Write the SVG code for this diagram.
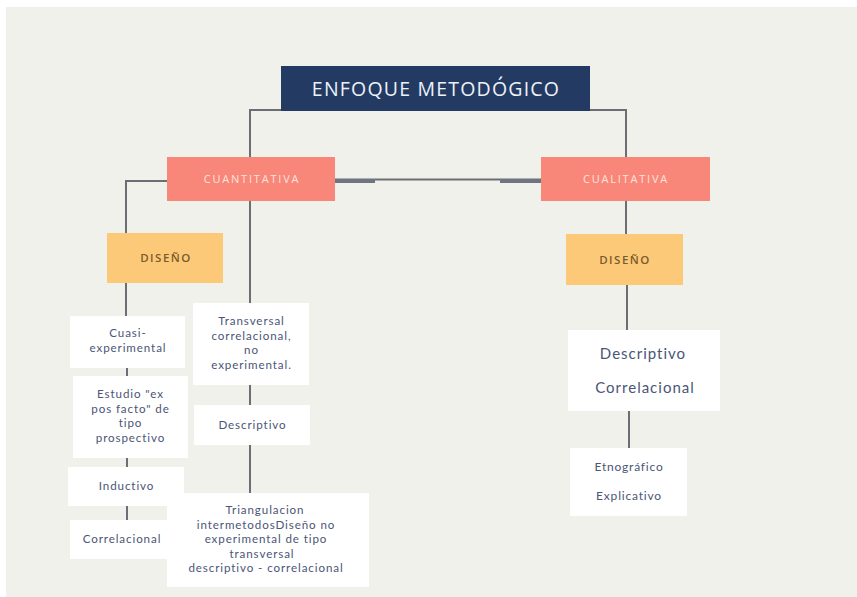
<svg xmlns="http://www.w3.org/2000/svg" width="857" height="597" viewBox="0 0 857 597">
<style>
  .bg{fill:#f1f1ec}
  .top{fill:#233b63}
  .main{fill:#f8877a}
  .dis{fill:#fcc978}
  .card{fill:#ffffff}
  .ln{stroke:#6b6e74;stroke-width:2;fill:none}
  text{font-family:Lato,"Open Sans","Liberation Sans",sans-serif;text-anchor:middle}
  .tt{font-family:"Open Sans","Liberation Sans",sans-serif;fill:#eef1f7;font-size:19.5px;letter-spacing:1.2px}
  .mt{font-family:"Open Sans","Liberation Sans",sans-serif;fill:#fde3dd;font-size:11px;letter-spacing:1.8px}
  .dt{font-family:"Open Sans","Liberation Sans",sans-serif;fill:#7a5b2c;font-size:11.5px;font-weight:600;letter-spacing:1.5px}
  .ct{fill:#4b5576;font-size:11.6px;letter-spacing:0.9px}
  .big{fill:#4b5576;font-size:15px;letter-spacing:1px}
  .sm{fill:#4b5576;font-size:12px;letter-spacing:0.8px}
</style>
<rect width="857" height="597" fill="#ffffff"/>
<rect class="bg" x="6" y="7" width="851" height="590"/>
<g id="connectors">
  <polyline class="ln" points="281,110 250,110 250,157"/>
  <polyline class="ln" points="590,110 626,110 626,157"/>
  <line class="ln" x1="335" y1="179.5" x2="541" y2="179.5"/>
  <rect x="335" y="179" width="40" height="4" fill="#6f7481"/>
  <rect x="500" y="179" width="41" height="4" fill="#6f7481"/>
  <polyline class="ln" points="167,181 126,181 126,233"/>
  <line class="ln" x1="250" y1="201" x2="250" y2="303"/>
  <line class="ln" x1="126" y1="283" x2="126" y2="316"/>
  <line class="ln" x1="127" y1="368" x2="127" y2="376"/>
  <line class="ln" x1="127" y1="458" x2="127" y2="467"/>
  <line class="ln" x1="127" y1="506" x2="127" y2="520"/>
  <line class="ln" x1="250" y1="385" x2="250" y2="405"/>
  <line class="ln" x1="250" y1="445" x2="250" y2="493"/>
  <line class="ln" x1="626" y1="201" x2="626" y2="234"/>
  <line class="ln" x1="627" y1="285" x2="627" y2="330"/>
  <line class="ln" x1="629" y1="411" x2="629" y2="448"/>
</g>
<g id="enfoque">
  <rect class="top" x="281" y="66" width="309" height="45"/>
  <text class="tt" x="436" y="96">ENFOQUE METODÓGICO</text>
</g>
<g id="cuantitativa">
  <rect class="main" x="167" y="157" width="168" height="44"/>
  <text class="mt" x="252" y="183">CUANTITATIVA</text>
</g>
<g id="cualitativa">
  <rect class="main" x="541" y="157" width="169" height="44"/>
  <text class="mt" x="626" y="183">CUALITATIVA</text>
</g>
<g id="diseno-izq">
  <rect class="dis" x="107" y="233" width="116" height="50"/>
  <text class="dt" x="166" y="262">DISEÑO</text>
</g>
<g id="diseno-der">
  <rect class="dis" x="566" y="234" width="117" height="51"/>
  <text class="dt" x="625" y="263.5">DISEÑO</text>
</g>
<g id="cuasi">
  <rect class="card" x="70" y="316" width="115" height="52"/>
  <text class="ct" x="128" y="337">Cuasi-</text>
  <text class="ct" x="128" y="352">experimental</text>
</g>
<g id="estudio">
  <rect class="card" x="73" y="376" width="115" height="82"/>
  <text class="ct" x="130.5" y="398">Estudio "ex</text>
  <text class="ct" x="130.5" y="412.5">pos facto" de</text>
  <text class="ct" x="130.5" y="427">tipo</text>
  <text class="ct" x="130.5" y="441.5">prospectivo</text>
</g>
<g id="inductivo">
  <rect class="card" x="68" y="467" width="116" height="39"/>
  <text class="ct" x="126.5" y="490">Inductivo</text>
</g>
<g id="correlacional-izq">
  <rect class="card" x="70" y="520" width="100" height="39"/>
  <text class="ct" x="122" y="543">Correlacional</text>
</g>
<g id="transversal">
  <rect class="card" x="193" y="303" width="116" height="82"/>
  <text class="ct" x="251.5" y="325">Transversal</text>
  <text class="ct" x="251.5" y="339.5">correlacional,</text>
  <text class="ct" x="251.5" y="354">no</text>
  <text class="ct" x="251.5" y="368.5">experimental.</text>
</g>
<g id="descriptivo-izq">
  <rect class="card" x="194" y="405" width="116" height="40"/>
  <text class="ct" x="252.5" y="429">Descriptivo</text>
</g>
<g id="triangulacion">
  <rect class="card" x="167" y="493" width="202" height="94"/>
  <text class="ct" x="265" y="514">Triangulacion</text>
  <text class="ct" x="266" y="528.5">intermetodosDiseño no</text>
  <text class="ct" x="266" y="543">experimental de tipo</text>
  <text class="ct" x="262" y="557.5">transversal</text>
  <text class="ct" x="266" y="572">descriptivo - correlacional</text>
</g>
<g id="descriptivo-der">
  <rect class="card" x="568" y="330" width="152" height="81"/>
  <text class="big" x="643" y="359">Descriptivo</text>
  <text class="big" x="645" y="393">Correlacional</text>
</g>
<g id="etnografico">
  <rect class="card" x="570" y="448" width="117" height="68"/>
  <text class="sm" x="629" y="471">Etnográfico</text>
  <text class="sm" x="629" y="500">Explicativo</text>
</g>
</svg>
